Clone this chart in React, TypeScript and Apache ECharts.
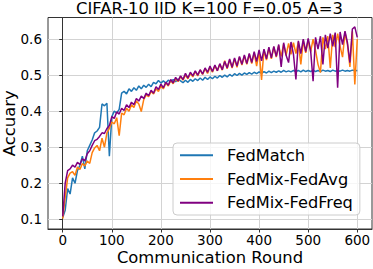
import React, { useEffect, useRef } from "react";
import * as echarts from "echarts";

const rounds: number[] = Array.from({ length: 121 }, (_, i) => i * 5);

const fedMatch: number[] = [
  0.105, 0.125, 0.185, 0.170, 0.215, 0.200, 0.235, 0.250, 0.275, 0.240,
  0.290, 0.305, 0.320, 0.340, 0.345, 0.355, 0.420, 0.415, 0.422, 0.275,
  0.385, 0.400, 0.395, 0.405, 0.450, 0.455, 0.448, 0.462, 0.455, 0.465,
  0.458, 0.470, 0.462, 0.472, 0.466, 0.475, 0.468, 0.480, 0.476, 0.485,
  0.478, 0.484, 0.478, 0.486, 0.481, 0.488, 0.482, 0.489, 0.484, 0.479,
  0.486, 0.480, 0.488, 0.483, 0.490, 0.485, 0.492, 0.486, 0.494, 0.488,
  0.495, 0.490, 0.497, 0.492, 0.499, 0.494, 0.500, 0.495, 0.502, 0.497,
  0.504, 0.499, 0.505, 0.500, 0.506, 0.502, 0.507, 0.503, 0.508, 0.504,
  0.509, 0.505, 0.510, 0.506, 0.511, 0.507, 0.511, 0.508, 0.512, 0.508,
  0.513, 0.509, 0.512, 0.509, 0.513, 0.510, 0.513, 0.509, 0.514, 0.510,
  0.513, 0.510, 0.514, 0.510, 0.513, 0.510, 0.514, 0.511, 0.513, 0.510,
  0.514, 0.511, 0.513, 0.511, 0.514, 0.511, 0.513, 0.511, 0.514, 0.512,
  0.513,
];

const fedAvg: number[] = [
  0.102, 0.160, 0.215, 0.228, 0.232, 0.222, 0.245, 0.238, 0.255, 0.248,
  0.262, 0.255, 0.285, 0.298, 0.305, 0.290, 0.325, 0.300, 0.340, 0.352,
  0.370, 0.365, 0.382, 0.332, 0.395, 0.390, 0.408, 0.400, 0.418, 0.410,
  0.428, 0.420, 0.399, 0.432, 0.445, 0.440, 0.455, 0.448, 0.462, 0.455,
  0.470, 0.462, 0.478, 0.470, 0.485, 0.476, 0.490, 0.482, 0.496, 0.486,
  0.500, 0.490, 0.505, 0.495, 0.510, 0.498, 0.514, 0.502, 0.518, 0.505,
  0.522, 0.508, 0.526, 0.512, 0.530, 0.514, 0.540, 0.518, 0.542, 0.520,
  0.545, 0.522, 0.550, 0.528, 0.553, 0.530, 0.558, 0.532, 0.562, 0.525,
  0.566, 0.487, 0.570, 0.542, 0.575, 0.545, 0.578, 0.550, 0.582, 0.552,
  0.586, 0.555, 0.588, 0.558, 0.590, 0.560, 0.592, 0.530, 0.596, 0.562,
  0.598, 0.565, 0.600, 0.568, 0.530, 0.507, 0.605, 0.572, 0.608, 0.520,
  0.612, 0.578, 0.615, 0.580, 0.550, 0.618, 0.585, 0.523, 0.622, 0.474,
  0.600,
];

const fedFreq: number[] = [
  0.108, 0.200, 0.235, 0.240, 0.250, 0.245, 0.258, 0.252, 0.268, 0.262,
  0.282, 0.290, 0.305, 0.318, 0.322, 0.330, 0.340, 0.338, 0.352, 0.360,
  0.385, 0.380, 0.398, 0.392, 0.408, 0.402, 0.418, 0.410, 0.425, 0.418,
  0.435, 0.428, 0.442, 0.435, 0.450, 0.443, 0.458, 0.450, 0.468, 0.460,
  0.475, 0.465, 0.480, 0.472, 0.488, 0.478, 0.494, 0.484, 0.498, 0.488,
  0.505, 0.492, 0.508, 0.498, 0.512, 0.500, 0.515, 0.503, 0.520, 0.508,
  0.525, 0.510, 0.528, 0.512, 0.532, 0.515, 0.538, 0.520, 0.545, 0.522,
  0.548, 0.525, 0.552, 0.530, 0.556, 0.532, 0.560, 0.535, 0.565, 0.538,
  0.570, 0.540, 0.572, 0.545, 0.578, 0.548, 0.580, 0.552, 0.585, 0.523,
  0.590, 0.555, 0.535, 0.592, 0.558, 0.488, 0.595, 0.560, 0.600, 0.565,
  0.602, 0.568, 0.483, 0.605, 0.572, 0.608, 0.530, 0.612, 0.575, 0.615,
  0.580, 0.618, 0.465, 0.620, 0.585, 0.622, 0.590, 0.535, 0.628, 0.634,
  0.605,
];

const seriesNames = ["FedMatch", "FedMix-FedAvg", "FedMix-FedFreq"];
const seriesColors = ["#1f77b4", "#ff7f0e", "#800080"];
const xTicks = [0, 100, 200, 300, 400, 500, 600];
const yTicks = [0.1, 0.2, 0.3, 0.4, 0.5, 0.6];

const FONT = "DejaVu Sans";

export default function App() {
  const ref = useRef<HTMLDivElement>(null);
  useEffect(() => {
    if (!ref.current) return;
    const chart = echarts.init(ref.current, undefined, { renderer: "svg" });
    const allSeries = [fedMatch, fedAvg, fedFreq];
    chart.setOption({
      animation: false,
      backgroundColor: "#ffffff",
      title: {
        text: "CIFAR-10 IID K=100 F=0.05 A=3",
        left: 76,
        top: 0,
        padding: 0,
        textStyle: { fontFamily: FONT, fontSize: 16.4, fontWeight: "normal", color: "#000" },
      },
      grid: {
        left: 48,
        right: 1,
        top: 17.5,
        bottom: 40,
        show: true,
        borderColor: "#333333",
        borderWidth: 1,
        containLabel: false,
        outerBoundsMode: "none",
      },
      legend: {
        orient: "vertical",
        left: 173,
        top: 143,
        itemWidth: 33,
        itemHeight: 2,
        itemGap: 5.7,
        icon: "rect",
        padding: [3.3, 7, 3.3, 7],
        backgroundColor: "rgba(255,255,255,0.8)",
        borderColor: "#cccccc",
        borderWidth: 1,
        borderRadius: 4,
        textStyle: { fontFamily: FONT, fontSize: 16.2, color: "#000", lineHeight: 18, padding: [0, 0, 0, 9] },
        data: seriesNames,
      },
      xAxis: {
        type: "value",
        min: -30,
        max: 630,
        name: "Communication Round",
        nameLocation: "middle",
        nameGap: 20,
        nameMoveOverlap: false,
        nameTextStyle: { fontFamily: FONT, fontSize: 16.4, lineHeight: 16, color: "#000" },
        axisLine: { show: true, lineStyle: { color: "#333333", width: 1 } },
        axisTick: { show: true, inside: false, length: 3.5, lineStyle: { color: "#333333" }, customValues: xTicks },
        axisLabel: { fontFamily: FONT, fontSize: 13.5, lineHeight: 12, color: "#000", margin: 5, customValues: xTicks },
        splitLine: { show: true, lineStyle: { color: "#d3d3d3", width: 1 }, customValues: xTicks },
      },
      yAxis: {
        type: "value",
        min: 0.073,
        max: 0.66,
        name: "Accuary",
        nameLocation: "middle",
        nameGap: 31,
        nameMoveOverlap: false,
        nameTextStyle: { fontFamily: FONT, fontSize: 16.4, lineHeight: 16, color: "#000" },
        axisLine: { show: true, lineStyle: { color: "#333333", width: 1 } },
        axisTick: { show: true, inside: false, length: 3.5, lineStyle: { color: "#333333" }, customValues: yTicks },
        axisLabel: {
          fontFamily: FONT,
          fontSize: 13.5,
          color: "#000",
          margin: 6,
          customValues: yTicks,
          formatter: (v: number) => v.toFixed(1),
        },
        splitLine: { show: true, lineStyle: { color: "#d3d3d3", width: 1 }, customValues: yTicks },
      },
      series: allSeries.map((vals, si) => ({
        name: seriesNames[si],
        type: "line",
        showSymbol: false,
        symbol: "none",
        color: seriesColors[si],
        lineStyle: { color: seriesColors[si], width: 1.5 },
        data: vals.map((v, i) => [rounds[i], v]),
        z: 2 + si,
      })),
    });
    return () => chart.dispose();
  }, []);
  return (
    <div
      ref={ref}
      style={{ position: "fixed", left: 0, top: 0, width: 373, height: 269 }}
    />
  );
}
